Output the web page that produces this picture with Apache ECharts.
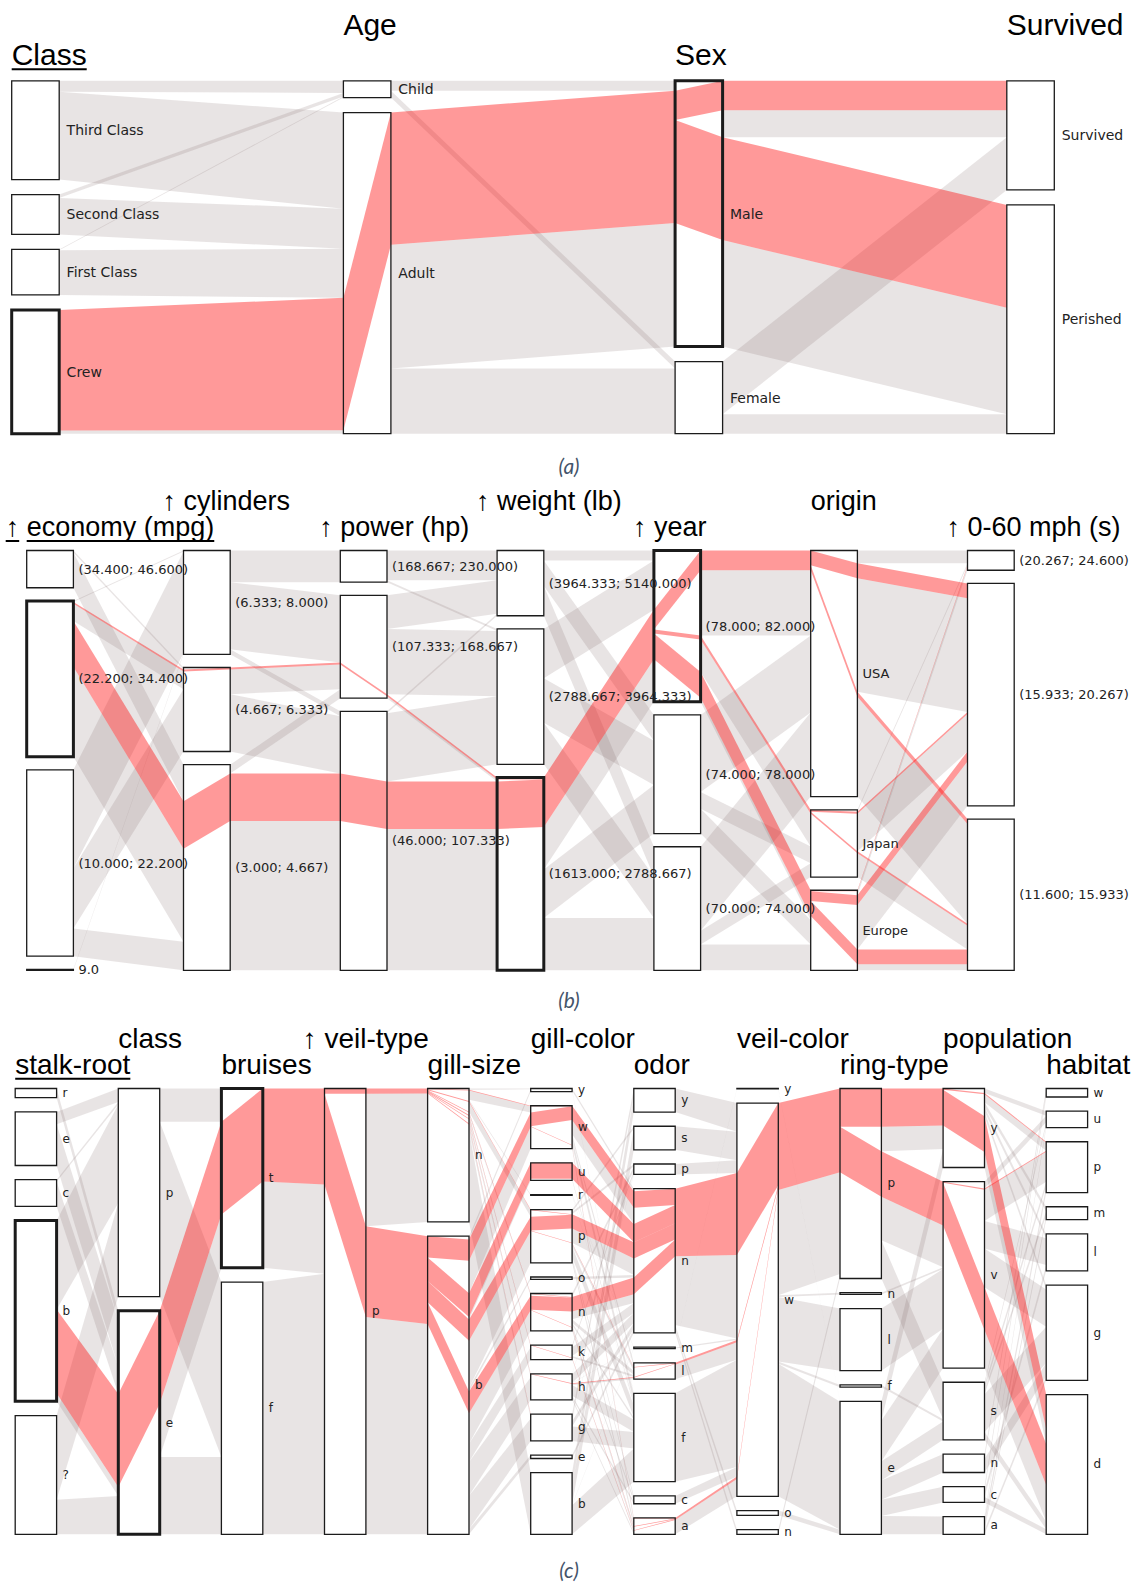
<!DOCTYPE html>
<html>
<head>
<meta charset="utf-8">
<title>Parallel sets</title>
<script src="https://cdn.jsdelivr.net/npm/echarts/dist/echarts.min.js"></script>
<style>
  html, body { margin: 0; padding: 0; background: #ffffff; }
  #chart { width: 1138px; height: 1585px; }
</style>
</head>
<body>
<div id="chart"></div>
<script>
// ---------------------------------------------------------------
// (a) Titanic: people by class, age, sex and fate
// ---------------------------------------------------------------
const titanicDims = ['Class', 'Age', 'Sex', 'Survived'];
const titanicClasses = ['Third Class', 'Second Class', 'First Class', 'Crew'];
const titanicAges = ['Child', 'Adult'];
const titanicSexes = ['Male', 'Female'];
const titanicFates = ['Survived', 'Perished'];
const titanicRows = [
  ['Third Class', 'Child', 'Male', 'Survived', 13],
  ['Third Class', 'Child', 'Male', 'Perished', 35],
  ['Third Class', 'Child', 'Female', 'Survived', 14],
  ['Third Class', 'Child', 'Female', 'Perished', 17],
  ['Third Class', 'Adult', 'Male', 'Survived', 75],
  ['Third Class', 'Adult', 'Male', 'Perished', 387],
  ['Third Class', 'Adult', 'Female', 'Survived', 76],
  ['Third Class', 'Adult', 'Female', 'Perished', 89],
  ['Second Class', 'Child', 'Male', 'Survived', 11],
  ['Second Class', 'Child', 'Female', 'Survived', 13],
  ['Second Class', 'Adult', 'Male', 'Survived', 14],
  ['Second Class', 'Adult', 'Male', 'Perished', 154],
  ['Second Class', 'Adult', 'Female', 'Survived', 80],
  ['Second Class', 'Adult', 'Female', 'Perished', 13],
  ['First Class', 'Child', 'Male', 'Survived', 5],
  ['First Class', 'Child', 'Female', 'Survived', 1],
  ['First Class', 'Adult', 'Male', 'Survived', 57],
  ['First Class', 'Adult', 'Male', 'Perished', 118],
  ['First Class', 'Adult', 'Female', 'Survived', 140],
  ['First Class', 'Adult', 'Female', 'Perished', 4],
  ['Crew', 'Adult', 'Male', 'Survived', 192],
  ['Crew', 'Adult', 'Male', 'Perished', 670],
  ['Crew', 'Adult', 'Female', 'Survived', 20],
  ['Crew', 'Adult', 'Female', 'Perished', 3]
];
const titanicSelection = ['Crew', 'Male'];   // highlighted: male crew members

// ---------------------------------------------------------------
// (b) Cars: binned attributes, counts per bin and flows between bins
// ---------------------------------------------------------------
const carDims = ['economy (mpg)', 'cylinders', 'power (hp)', 'weight (lb)', 'year', 'origin', '0-60 mph (s)'];
const carEconomyBins = ['(34.400; 46.600)', '(22.200; 34.400)', '(10.000; 22.200)', '9.0'];
const carEconomyCounts = [39, 163, 195, 1];
const carCylinderBins = ['(6.333; 8.000)', '(4.667; 6.333)', '(3.000; 4.667)'];
const carCylinderCounts = [105, 85, 208];
const carPowerBins = ['(168.667; 230.000)', '(107.333; 168.667)', '(46.000; 107.333)'];
const carPowerCounts = [32, 104, 262];
const carWeightBins = ['(3964.333; 5140.000)', '(2788.667; 3964.333)', '(1613.000; 2788.667)'];
const carWeightCounts = [66, 137, 195];
const carYearBins = ['(78.000; 82.000)', '(74.000; 78.000)', '(70.000; 74.000)'];
const carYearCounts = [153, 120, 125];
const carOrigins = ['USA', 'Japan', 'Europe'];
const carOriginCounts = [249, 68, 81];
const carAccelBins = ['(20.267; 24.600)', '(15.933; 20.267)', '(11.600; 15.933)'];
const carAccelCounts = [20, 225, 153];

// rows: bins of the left attribute, columns: bins of the right attribute
const carEconomyToCylinders = [[0, 2, 37], [1, 20, 142], [103, 63, 29], [1, 0, 0]];
const carCylindersToPower = [[32, 68, 5], [0, 27, 58], [0, 9, 199]];
const carPowerToWeight = [[30, 2, 0], [34, 66, 4], [2, 69, 191]];
const carWeightToYear = [[10, 26, 30], [50, 45, 42], [93, 49, 53]];
const carYearToOrigin = [[86, 37, 30], [78, 17, 25], [85, 14, 26]];
const carOriginToAccel = [[13, 130, 106], [2, 40, 26], [5, 55, 21]];

// selected cars: mid economy, light weight, model years 78-82
const carSelEconomyToCylinders = [[0, 0, 0], [0, 2, 48], [0, 0, 0], [0, 0, 0]];
const carSelCylindersToPower = [[0, 0, 0], [0, 2, 0], [0, 0, 48]];
const carSelPowerToWeight = [[0, 0, 0], [0, 0, 2], [0, 0, 48]];
const carSelWeightToYear = [[0, 0, 0], [0, 0, 0], [50, 0, 0]];
const carSelYearToOrigin = [[20, 4, 26], [0, 0, 0], [0, 0, 0]];
const carSelOriginToAccel = [[0, 15, 5], [0, 2, 2], [1, 10, 15]];

// ---------------------------------------------------------------
// (c) Mushrooms: category codes, counts and flows between attributes
// ---------------------------------------------------------------
const mushDims = ['stalk-root', 'class', 'bruises', 'veil-type', 'gill-size', 'gill-color',
  'odor', 'veil-color', 'ring-type', 'population', 'habitat'];
const mushStalkRoot = ['r', 'e', 'c', 'b', '?'];
const mushStalkRootCounts = [192, 1120, 556, 3776, 2480];
const mushClass = ['p', 'e'];
const mushClassCounts = [3916, 4208];
const mushBruises = ['t', 'f'];
const mushBruisesCounts = [3376, 4748];
const mushVeilType = ['p'];
const mushVeilTypeCounts = [8124];
const mushGillSize = ['n', 'b'];
const mushGillSizeCounts = [2512, 5612];
const mushGillColor = ['y', 'w', 'u', 'r', 'p', 'o', 'n', 'k', 'h', 'g', 'e', 'b'];
const mushGillColorCounts = [86, 1202, 492, 24, 1492, 64, 1048, 408, 732, 752, 96, 1728];
const mushOdor = ['y', 's', 'p', 'n', 'm', 'l', 'f', 'c', 'a'];
const mushOdorCounts = [576, 576, 256, 3528, 36, 400, 2160, 192, 400];
const mushVeilColor = ['y', 'w', 'o', 'n'];
const mushVeilColorCounts = [8, 7924, 96, 96];
const mushRingType = ['p', 'n', 'l', 'f', 'e'];
const mushRingTypeCounts = [3968, 36, 1296, 48, 2776];
const mushPopulation = ['y', 'v', 's', 'n', 'c', 'a'];
const mushPopulationCounts = [1712, 4040, 1248, 400, 340, 384];
const mushHabitat = ['w', 'u', 'p', 'm', 'l', 'g', 'd'];
const mushHabitatCounts = [192, 368, 1144, 292, 832, 2148, 3148];

const mushStalkRootToClass = [['r', 'e', 192], ['e', 'p', 256], ['e', 'e', 864], ['c', 'p', 44], ['c', 'e', 512],
  ['b', 'p', 1856], ['b', 'e', 1920], ['?', 'p', 1760], ['?', 'e', 720]];
const mushClassToBruises = [['p', 't', 624], ['p', 'f', 3292], ['e', 't', 2752], ['e', 'f', 1456]];
const mushBruisesToVeilType = [['t', 'p', 3376], ['f', 'p', 4748]];
const mushVeilTypeToGillSize = [['p', 'n', 2512], ['p', 'b', 5612]];
const mushGillSizeToGillColor = [
  ['n', 'y', 22], ['n', 'w', 190], ['n', 'r', 24], ['n', 'p', 200], ['n', 'n', 64], ['n', 'k', 64],
  ['n', 'h', 96], ['n', 'g', 124], ['n', 'b', 1728],
  ['b', 'y', 64], ['b', 'w', 1012], ['b', 'u', 492], ['b', 'p', 1292], ['b', 'o', 64], ['b', 'n', 984],
  ['b', 'k', 344], ['b', 'h', 636], ['b', 'g', 628], ['b', 'e', 96]];
const mushGillColorToOdor = [
  ['y', 'n', 64], ['y', 'f', 22],
  ['w', 'a', 100], ['w', 'l', 100], ['w', 'n', 802], ['w', 'f', 200],
  ['u', 'n', 444], ['u', 'f', 48],
  ['r', 'm', 12], ['r', 'f', 12],
  ['p', 'n', 800], ['p', 'a', 100], ['p', 'l', 100], ['p', 'f', 300], ['p', 'p', 64], ['p', 'c', 64], ['p', 's', 64],
  ['o', 'n', 64],
  ['n', 'n', 624], ['n', 'a', 100], ['n', 'l', 100], ['n', 'p', 96], ['n', 'f', 64], ['n', 'c', 64],
  ['k', 'n', 244], ['k', 'a', 50], ['k', 'l', 50], ['k', 'p', 64],
  ['h', 'n', 240], ['h', 'f', 300], ['h', 'a', 50], ['h', 'l', 50], ['h', 'c', 64], ['h', 'm', 12], ['h', 'p', 16],
  ['g', 'n', 150], ['g', 'p', 16], ['g', 'f', 400], ['g', 'y', 186],
  ['e', 'n', 96],
  ['b', 's', 512], ['b', 'm', 12], ['b', 'f', 814], ['b', 'y', 390]];
const mushOdorToVeilColor = [['y', 'w', 576], ['s', 'w', 576], ['p', 'w', 256], ['n', 'w', 3336], ['n', 'o', 96],
  ['n', 'n', 96], ['m', 'w', 28], ['m', 'y', 8], ['l', 'w', 400], ['f', 'w', 2160], ['c', 'w', 192], ['a', 'w', 400]];
const mushVeilColorToRingType = [['y', 'e', 8], ['w', 'p', 3872], ['w', 'n', 36], ['w', 'l', 1296], ['w', 'f', 48],
  ['w', 'e', 2672], ['o', 'e', 96], ['n', 'p', 96]];
const mushRingTypeToPopulation = [['p', 'y', 1312], ['p', 'v', 1856], ['p', 's', 800], ['n', 'v', 36], ['l', 'v', 1296],
  ['f', 's', 48], ['e', 'y', 400], ['e', 'v', 852], ['e', 's', 400], ['e', 'n', 400], ['e', 'c', 340], ['e', 'a', 384]];
const mushPopulationToHabitat = [
  ['y', 'u', 100], ['y', 'p', 200], ['y', 'm', 100], ['y', 'l', 100], ['y', 'g', 100], ['y', 'd', 1112],
  ['v', 'u', 150], ['v', 'p', 700], ['v', 'l', 600], ['v', 'g', 840], ['v', 'd', 1750],
  ['s', 'u', 60], ['s', 'p', 100], ['s', 'm', 100], ['s', 'g', 818], ['s', 'd', 170],
  ['n', 'w', 100], ['n', 'g', 300],
  ['c', 'w', 92], ['c', 'l', 132], ['c', 'd', 116],
  ['a', 'u', 58], ['a', 'p', 144], ['a', 'm', 92], ['a', 'g', 90]];

// selected mushrooms: bulbous stalk root, edible, bruising
const mushSelStalkRootToClass = [['b', 'e', 1750]];
const mushSelClassToBruises = [['e', 't', 1750]];
const mushSelBruisesToVeilType = [['t', 'p', 1750]];
const mushSelVeilTypeToGillSize = [['p', 'n', 96], ['p', 'b', 1654]];
const mushSelGillSizeToGillColor = [['n', 'w', 16], ['n', 'p', 16], ['n', 'n', 16], ['n', 'k', 16], ['n', 'h', 16],
  ['n', 'g', 16], ['b', 'w', 400], ['b', 'u', 444], ['b', 'p', 400], ['b', 'n', 410]];
const mushSelGillColorToOdor = [['w', 'n', 400], ['w', 'a', 16], ['u', 'n', 444], ['p', 'n', 400], ['p', 'l', 16],
  ['n', 'n', 410], ['n', 'a', 16], ['k', 'a', 16], ['h', 'l', 16], ['g', 'l', 16]];
const mushSelOdorToVeilColor = [['n', 'w', 1654], ['l', 'w', 48], ['a', 'w', 48]];
const mushSelVeilColorToRingType = [['w', 'p', 1750]];
const mushSelRingTypeToPopulation = [['p', 'y', 800], ['p', 'v', 950]];
const mushSelPopulationToHabitat = [['y', 'p', 25], ['y', 'd', 775], ['v', 'p', 25], ['v', 'd', 925]];

// ---------------------------------------------------------------
// helpers that turn the tables above into flow lists
// ---------------------------------------------------------------
const sum = (arr) => arr.reduce((s, v) => s + v, 0);

function matrixFlows(m) {
  const out = [];
  m.forEach((row, a) => row.forEach((v, b) => { if (v > 0) out.push([a, b, v]); }));
  return out;
}
function namedFlows(list, catsA, catsB) {
  return list.map(([a, b, v]) => [catsA.indexOf(a), catsB.indexOf(b), v]);
}

// aggregate a multi-way table into per-axis counts and pairwise flows
function tableSegments(dimCats, rows, isSelected) {
  const n = dimCats.length;
  const counts = dimCats.map((c) => c.map(() => 0));
  const all = [], sel = [];
  for (let s = 0; s < n - 1; s++) { all.push({}); sel.push({}); }
  rows.forEach((row) => {
    const idx = dimCats.map((cats, d) => cats.indexOf(row[d]));
    const v = row[n];
    idx.forEach((ci, d) => { counts[d][ci] += v; });
    for (let s = 0; s < n - 1; s++) {
      const key = idx[s] + ',' + idx[s + 1];
      all[s][key] = (all[s][key] || 0) + v;
      if (isSelected(row)) sel[s][key] = (sel[s][key] || 0) + v;
    }
  });
  const toList = (obj) => Object.keys(obj).map((k) => k.split(',').map(Number).concat(obj[k]));
  return { counts, segments: all.map((o, s) => ({ flows: toList(o), red: toList(sel[s]) })) };
}

const titanicCats = [titanicClasses, titanicAges, titanicSexes, titanicFates];
const titanicAgg = tableSegments(titanicCats, titanicRows,
  (row) => row[0] === titanicSelection[0] && row[2] === titanicSelection[1]);

// ---------------------------------------------------------------
// panel descriptions
// ---------------------------------------------------------------
const panels = [
  {
    frame: { left: 11.7, top: 80.8, width: 995.1, height: 352.9, boxWidth: 47.5, gap: 15 },
    titleSize: 30, titleRise: [15.8, 45.8], labelSize: 14, labelPad: 7.4,
    axes: titanicDims.map((name, i) => ({
      title: name, arrow: false, underline: i === 0,
      cats: titanicCats[i], counts: titanicAgg.counts[i],
      bold: i === 0 ? ['Crew'] : (i === 2 ? ['Male'] : [])
    })),
    segments: titanicAgg.segments
  },
  {
    frame: { left: 26.7, top: 550.5, width: 940.8, height: 419.8, boxWidth: 46.7, gap: 13.2 },
    titleSize: 27, titleRise: [13.8, 39.8], labelSize: 13, labelPad: 5,
    axes: [
      { title: carDims[0], arrow: true, underline: true, cats: carEconomyBins, counts: carEconomyCounts, bold: ['(22.200; 34.400)'] },
      { title: carDims[1], arrow: true, cats: carCylinderBins, counts: carCylinderCounts, bold: [] },
      { title: carDims[2], arrow: true, cats: carPowerBins, counts: carPowerCounts, bold: [] },
      { title: carDims[3], arrow: true, cats: carWeightBins, counts: carWeightCounts, bold: ['(1613.000; 2788.667)'] },
      { title: carDims[4], arrow: true, cats: carYearBins, counts: carYearCounts, bold: ['(78.000; 82.000)'] },
      { title: carDims[5], arrow: false, cats: carOrigins, counts: carOriginCounts, bold: [] },
      { title: carDims[6], arrow: true, cats: carAccelBins, counts: carAccelCounts, bold: [] }
    ],
    segments: [
      { flows: matrixFlows(carEconomyToCylinders), red: matrixFlows(carSelEconomyToCylinders) },
      { flows: matrixFlows(carCylindersToPower), red: matrixFlows(carSelCylindersToPower) },
      { flows: matrixFlows(carPowerToWeight), red: matrixFlows(carSelPowerToWeight) },
      { flows: matrixFlows(carWeightToYear), red: matrixFlows(carSelWeightToYear) },
      { flows: matrixFlows(carYearToOrigin), red: matrixFlows(carSelYearToOrigin) },
      { flows: matrixFlows(carOriginToAccel), red: matrixFlows(carSelOriginToAccel) }
    ]
  }
];

const mushCats = [mushStalkRoot, mushClass, mushBruises, mushVeilType, mushGillSize, mushGillColor,
  mushOdor, mushVeilColor, mushRingType, mushPopulation, mushHabitat];
const mushCounts = [mushStalkRootCounts, mushClassCounts, mushBruisesCounts, mushVeilTypeCounts,
  mushGillSizeCounts, mushGillColorCounts, mushOdorCounts, mushVeilColorCounts, mushRingTypeCounts,
  mushPopulationCounts, mushHabitatCounts];
const mushFlowTables = [mushStalkRootToClass, mushClassToBruises, mushBruisesToVeilType, mushVeilTypeToGillSize,
  mushGillSizeToGillColor, mushGillColorToOdor, mushOdorToVeilColor, mushVeilColorToRingType,
  mushRingTypeToPopulation, mushPopulationToHabitat];
const mushSelTables = [mushSelStalkRootToClass, mushSelClassToBruises, mushSelBruisesToVeilType,
  mushSelVeilTypeToGillSize, mushSelGillSizeToGillColor, mushSelGillColorToOdor, mushSelOdorToVeilColor,
  mushSelVeilColorToRingType, mushSelRingTypeToPopulation, mushSelPopulationToHabitat];

panels.push({
  frame: { left: 15.2, top: 1088.5, width: 1031, height: 445.8, boxWidth: 41.4, gap: 14.2 },
  titleSize: 28, titleRise: [14, 40.5], labelSize: 12, labelPad: 6,
  axes: mushDims.map((name, i) => ({
    title: name, arrow: name === 'veil-type', underline: i === 0,
    cats: mushCats[i], counts: mushCounts[i],
    bold: i === 0 ? ['b'] : (i === 1 ? ['e'] : (i === 2 ? ['t'] : []))
  })),
  segments: mushFlowTables.map((t, s) => ({
    flows: namedFlows(t, mushCats[s], mushCats[s + 1]),
    red: namedFlows(mushSelTables[s], mushCats[s], mushCats[s + 1])
  }))
});

// ---------------------------------------------------------------
// parallel-sets layout: boxes per category, stacked ribbons per side
// y is measured as a fraction of the panel height, 0 at the top
// ---------------------------------------------------------------
function layoutPanel(panel) {
  const { axes, segments, frame } = panel;
  const gapF = frame.gap / frame.height;
  const boxes = axes.map((ax) => {
    const k = (1 - gapF * (ax.counts.length - 1)) / sum(ax.counts);
    let y = 0;
    return ax.counts.map((c) => { const b = { y0: y, y1: y + c * k }; y = b.y1 + gapF; return b; });
  });
  const links = segments.map((seg, s) => {
    const redOf = {};
    seg.red.forEach(([a, b, v]) => { redOf[a + ',' + b] = v; });
    const flows = seg.flows.map(([a, b, v]) => ({ a, b, v, red: Math.min(v, redOf[a + ',' + b] || 0) }));
    boxes[s].forEach((box, ai) => {
      const list = flows.filter((f) => f.a === ai).sort((p, q) => p.b - q.b);
      if (!list.length) return;
      const k = (box.y1 - box.y0) / sum(list.map((f) => f.v));
      let y = box.y0;
      list.forEach((f) => { f.L0 = y; f.Lr = y + f.red * k; f.L1 = y + f.v * k; y = f.L1; });
    });
    boxes[s + 1].forEach((box, bi) => {
      const list = flows.filter((f) => f.b === bi).sort((p, q) => p.a - q.a);
      if (!list.length) return;
      const k = (box.y1 - box.y0) / sum(list.map((f) => f.v));
      let y = box.y0;
      list.forEach((f) => { f.R0 = y; f.Rr = y + f.red * k; f.R1 = y + f.v * k; y = f.R1; });
    });
    return flows;
  });

  const grey = [], red = [];
  links.forEach((flows, s) => flows.forEach((f) => {
    if (f.v - f.red > 0) grey.push([s, 1, s + 1, 0, f.Lr, f.L1, f.Rr, f.R1]);
    if (f.red > 0) red.push([s, 1, s + 1, 0, f.L0, f.Lr, f.R0, f.Rr]);
  }));

  // highlighted flow carried through each inner box, from its entry to its exits
  for (let i = 1; i < axes.length - 1; i++) {
    boxes[i].forEach((box, c) => {
      const inc = links[i - 1].filter((f) => f.b === c && f.red > 0)
        .sort((p, q) => p.R0 - q.R0).map((f) => ({ y0: f.R0, y1: f.Rr, v: f.red }));
      const out = links[i].filter((f) => f.a === c && f.red > 0)
        .sort((p, q) => p.L0 - q.L0).map((f) => ({ y0: f.L0, y1: f.Lr, v: f.red }));
      let p = 0, q = 0, up = 0, uq = 0;
      while (p < inc.length && q < out.length) {
        const A = inc[p], B = out[q];
        const take = Math.min(A.v - up, B.v - uq);
        const a0 = A.y0 + (A.y1 - A.y0) * up / A.v, a1 = A.y0 + (A.y1 - A.y0) * (up + take) / A.v;
        const b0 = B.y0 + (B.y1 - B.y0) * uq / B.v, b1 = B.y0 + (B.y1 - B.y0) * (uq + take) / B.v;
        red.push([i, 0, i, 1, a0, a1, b0, b1]);
        up += take; uq += take;
        if (up >= A.v - 1e-9) { p++; up = 0; }
        if (uq >= B.v - 1e-9) { q++; uq = 0; }
      }
    });
  }

  const boxItems = [], labelItems = [], labelTexts = [];
  axes.forEach((ax, i) => boxes[i].forEach((b, c) => {
    boxItems.push([i, b.y0, b.y1, ax.bold.indexOf(ax.cats[c]) >= 0 ? 1 : 0]);
    labelItems.push([i, (b.y0 + b.y1) / 2]);
    labelTexts.push(ax.cats[c]);
  }));
  return { grey, red, boxItems, labelItems, labelTexts };
}

// ---------------------------------------------------------------
// drawing
// ---------------------------------------------------------------
const GREY = 'rgba(120,96,96,0.17)';
const RED = 'rgba(255,0,0,0.40)';
const INK = '#1b1b1b';
const TITLE_FONT = '"Liberation Sans", Arial, sans-serif';
const LABEL_FONT = '"DejaVu Sans", Verdana, sans-serif';

const measureCtx = document.createElement('canvas').getContext('2d');
function textWidth(str, font) { measureCtx.font = font; return measureCtx.measureText(str).width; }

function bandRenderer(boxW, color) {
  return function (params, api) {
    const p0 = api.coord([api.value(0), api.value(4)]);
    const p1 = api.coord([api.value(0), api.value(5)]);
    const q0 = api.coord([api.value(2), api.value(6)]);
    const q1 = api.coord([api.value(2), api.value(7)]);
    const xa = p0[0] + api.value(1) * boxW;
    const xb = q0[0] + api.value(3) * boxW;
    return {
      type: 'polygon', silent: true,
      shape: { points: [[xa, p0[1]], [xb, q0[1]], [xb, q1[1]], [xa, p1[1]]] },
      style: { fill: color }
    };
  };
}
function boxRenderer(boxW, mode) {
  return function (params, api) {
    const a = api.coord([api.value(0), api.value(1)]);
    const b = api.coord([api.value(0), api.value(2)]);
    const bold = api.value(3) === 1;
    return {
      type: 'rect', silent: true,
      shape: { x: a[0], y: a[1], width: boxW, height: b[1] - a[1] },
      style: mode === 'fill' ? { fill: '#ffffff' } : { fill: 'none', stroke: INK, lineWidth: bold ? 3 : 1.3 }
    };
  };
}

const grids = [], xAxes = [], yAxes = [], series = [];
panels.forEach((panel, pi) => {
  const f = panel.frame;
  const L = layoutPanel(panel);
  grids.push({ left: f.left, top: f.top, width: f.width, height: f.height, containLabel: false });
  xAxes.push({ type: 'value', gridIndex: pi, min: 0, max: panel.axes.length - 1, show: false });
  yAxes.push({ type: 'value', gridIndex: pi, min: 0, max: 1, inverse: true, show: false });
  const common = { type: 'custom', xAxisIndex: pi, yAxisIndex: pi, coordinateSystem: 'cartesian2d', clip: false, silent: true, animation: false };

  series.push(Object.assign({}, common, { name: 'ribbons', z: 1, data: L.grey, renderItem: bandRenderer(f.boxWidth, GREY) }));
  series.push(Object.assign({}, common, { name: 'boxes', z: 2, data: L.boxItems, renderItem: boxRenderer(f.boxWidth, 'fill') }));
  series.push(Object.assign({}, common, { name: 'selection', z: 3, data: L.red, renderItem: bandRenderer(f.boxWidth, RED) }));
  series.push(Object.assign({}, common, { name: 'outlines', z: 4, data: L.boxItems, renderItem: boxRenderer(f.boxWidth, 'stroke') }));

  const labelFont = panel.labelSize + 'px ' + LABEL_FONT;
  series.push(Object.assign({}, common, {
    name: 'categories', z: 5, data: L.labelItems,
    renderItem: function (params, api) {
      const p = api.coord([api.value(0), api.value(1)]);
      return {
        type: 'text', silent: true, x: p[0] + f.boxWidth + panel.labelPad, y: p[1],
        style: { text: L.labelTexts[params.dataIndex], font: labelFont, fill: '#222222', align: 'left', verticalAlign: 'middle' }
      };
    }
  }));

  const tSize = panel.titleSize;
  const titleFont = tSize + 'px ' + TITLE_FONT;
  series.push(Object.assign({}, common, {
    name: 'dimensions', z: 5, data: panel.axes.map((ax, i) => [i, 0]),
    renderItem: function (params, api) {
      const i = params.dataIndex;
      const ax = panel.axes[i];
      const p = api.coord([i, 0]);
      const baseline = p[1] - panel.titleRise[i % 2];
      const prefix = ax.arrow ? '\u2191 ' : '';
      const x0 = p[0] - textWidth(prefix, titleFont);
      const children = [{
        type: 'text', x: x0, y: baseline - 0.3465 * tSize,
        style: { text: prefix + ax.title, font: titleFont, fill: '#000000', align: 'left', verticalAlign: 'middle' }
      }];
      if (ax.underline) {
        const uy = baseline + 4.3;
        const spans = [[p[0], p[0] + textWidth(ax.title, titleFont)]];
        if (ax.arrow) spans.push([x0, x0 + textWidth('\u2191', titleFont)]);
        spans.forEach(([a, b]) => children.push({
          type: 'line', shape: { x1: a, y1: uy, x2: b, y2: uy }, style: { stroke: '#000000', lineWidth: 2 }
        }));
      }
      return { type: 'group', silent: true, children };
    }
  }));
});

const captionStyle = { fontFamily: 'Lato, "Open Sans", sans-serif', fontStyle: 'italic', fontWeight: 'normal', fontSize: 21, color: '#44546a' };
const option = {
  backgroundColor: '#ffffff',
  animation: false,
  title: [
    { text: '(a)', left: 'center', top: 455, padding: 0, textStyle: captionStyle },
    { text: '(b)', left: 'center', top: 989, padding: 0, textStyle: captionStyle },
    { text: '(c)', left: 'center', top: 1559, padding: 0, textStyle: captionStyle }
  ],
  grid: grids,
  xAxis: xAxes,
  yAxis: yAxes,
  series: series
};

const chart = echarts.init(document.getElementById('chart'), null, { renderer: 'svg', width: 1138, height: 1585 });
chart.setOption(option);
</script>
</body>
</html>
